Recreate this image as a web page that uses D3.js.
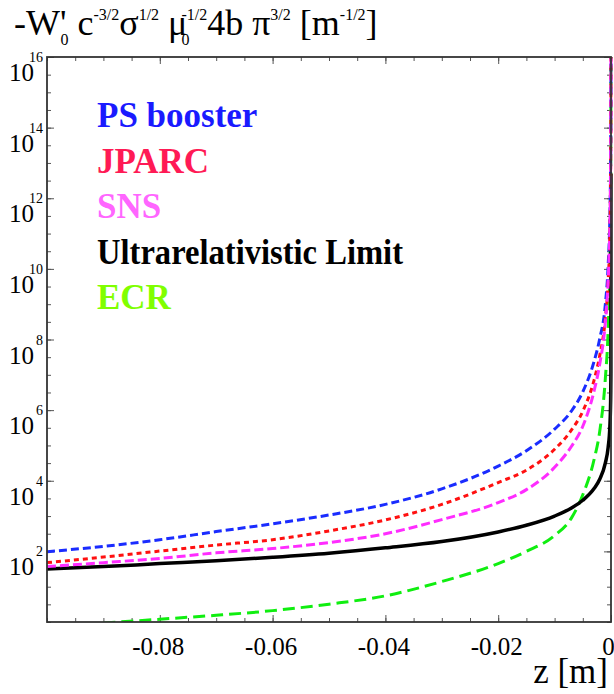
<!DOCTYPE html>
<html>
<head>
<meta charset="utf-8">
<script src="https://cdn.jsdelivr.net/npm/d3@7"></script>
<style>
  body { margin: 0; background: #fff; }
  text { font-family: "Liberation Serif", "Times New Roman", serif; }
</style>
</head>
<body>
<svg id="chart" width="614" height="694"></svg>
<script>
var zGrid = [-0.1, -0.09, -0.08, -0.07, -0.06, -0.05, -0.04, -0.03, -0.02, -0.015, -0.01,
  -0.007, -0.005, -0.003, -0.002, -0.001, -0.0005, -0.0002, -0.0001, -0.00005, -0.00002, -0.00001];

var psBooster = [98, 138, 214, 363, 603, 1070, 2140, 5890, 2.6e4, 7.1e4, 2.9e5,
  9.5e5, 3.3e6, 2.4e7, 1.05e8, 1e9, 1.3e10, 3e11, 3e12, 4e13, 8e14, 1e16];
var jparc = [48, 69, 102, 151, 214, 380, 776, 2140, 8900, 2.0e4, 7.8e4,
  2.75e5, 9.3e5, 7.1e6, 3.5e7, 4e8, 4.5e9, 1.1e11, 1.3e12, 1.4e13, 3.5e14, 1e16];
var sns = [37, 48, 63, 91, 120, 178, 316, 794, 2400, 5600, 2.4e4,
  9.5e4, 3.5e5, 3.5e6, 2e7, 3.2e8, 5e9, 1.6e11, 2e12, 2.5e13, 6.3e14, 1e16];
var ultraLimit = [31.6, 37, 45, 54, 68, 89, 126, 190, 355, 550, 1000,
  1700, 2800, 6000, 1.1e4, 3.2e4, 9e4, 3.5e5, 1e6, 2.8e6, 1.1e7, 5e12];
var ecr = [null, 0.93, 1.2, 1.55, 2.1, 3.2, 5.5, 14, 45, 100, 280,
  890, 4000, 4e4, 2.5e5, 8e6, 2e8, 1.3e10, 2.5e11, 6e12, 4e14, 1e16];

var seriesNames = ['PS booster', 'JPARC', 'SNS', 'Ultrarelativistic Limit', 'ECR'];
var seriesValues = [psBooster, jparc, sns, ultraLimit, ecr];
var lineColors = ['#1a2cff', '#ff1010', '#ff2cff', '#000000', '#10ee10'];
var labelColors = ['#1a1aff', '#ff1a55', '#ff66ff', '#000000', '#80ff00'];
var dashes = ['8,4', '5,4', '9,4', null, '12,6'];
var drawOrder = [4, 3, 0, 1, 2];

var xTickLabels = [-0.08, -0.06, -0.04, -0.02, 0];
var yTickExponents = [2, 4, 6, 8, 10, 12, 14, 16];

var svg = d3.select('#chart');
var plotL = 47, plotR = 611, plotT = 57, plotB = 622;

var x = d3.scaleLinear().domain([-0.1, 0]).range([plotL, plotR]);
var y = d3.scaleLog().domain([1, 1e16]).range([plotB, plotT]);

// clip for the curves
svg.append('clipPath').attr('id', 'plotclip')
  .append('rect').attr('x', plotL).attr('y', plotT).attr('width', plotR - plotL + 3).attr('height', plotB - plotT);

// ticks all round, pointing inward
var xMinor = d3.range(-0.1, 0.0001, 0.005);
var yMinor = d3.range(0, 16.01, 0.5).map(function(e) { return Math.pow(10, e); });
var yMajor = yTickExponents.map(function(e) { return Math.pow(10, e); });

function tickAxis(axis, transform) {
  var g = svg.append('g').attr('transform', transform).call(axis);
  g.select('.domain').remove();
  g.selectAll('line').attr('stroke', '#555').attr('stroke-width', 1);
  return g;
}
tickAxis(d3.axisBottom(x).tickValues(xMinor).tickSize(-4).tickFormat(''), 'translate(0,' + plotB + ')');
tickAxis(d3.axisTop(x).tickValues(xMinor).tickSize(-4).tickFormat(''), 'translate(0,' + plotT + ')');
tickAxis(d3.axisLeft(y).tickValues(yMinor).tickSize(-4).tickFormat(''), 'translate(' + plotL + ',0)');
tickAxis(d3.axisRight(y).tickValues(yMinor).tickSize(-4).tickFormat(''), 'translate(' + plotR + ',0)');
tickAxis(d3.axisLeft(y).tickValues(yMajor).tickSize(-7).tickFormat(''), 'translate(' + plotL + ',0)');
tickAxis(d3.axisRight(y).tickValues(yMajor).tickSize(-7).tickFormat(''), 'translate(' + plotR + ',0)');

var xAxis = tickAxis(d3.axisBottom(x).tickValues(xTickLabels).tickSize(-7).tickPadding(15)
  .tickFormat(function(d) { return d === 0 ? '0' : d.toFixed(2); }), 'translate(0,' + plotB + ')');
xAxis.selectAll('text').attr('font-size', 25).attr('fill', '#000')
  .style('font-family', '"Liberation Serif", "Times New Roman", serif')
  .attr('dx', function(d) { return d === 0 ? -3 : -2; });
tickAxis(d3.axisTop(x).tickValues(xTickLabels).tickSize(-7).tickFormat(''), 'translate(0,' + plotT + ')');

// y labels: 10 with exponent
var yLab = svg.append('g').selectAll('g').data(yTickExponents).enter().append('g');
yLab.append('text')
  .attr('x', 34).attr('y', function(d) { return y(Math.pow(10, d)) + 24; })
  .attr('text-anchor', 'end').attr('font-size', 25).text('10');
yLab.append('text')
  .attr('x', 43).attr('y', function(d) { return y(Math.pow(10, d)) + 5; })
  .attr('text-anchor', 'end').attr('font-size', 14).text(function(d) { return d; });

// curves
var line = d3.line()
  .defined(function(d) { return d.v != null; })
  .x(function(d) { return x(d.z); })
  .y(function(d) { return y(d.v); })
  .curve(d3.curveMonotoneX);

svg.append('g').attr('clip-path', 'url(#plotclip)')
  .selectAll('path').data(drawOrder).enter().append('path')
  .attr('d', function(k) {
    return line(zGrid.map(function(z, i) { return {z: z, v: seriesValues[k][i]}; }));
  })
  .attr('fill', 'none')
  .attr('stroke', function(k) { return lineColors[k]; })
  .attr('stroke-width', function(k) { return k === 3 ? 3.5 : 3; })
  .attr('stroke-dasharray', function(k) { return dashes[k]; });

// frame
svg.append('rect').attr('x', plotL).attr('y', plotT).attr('width', plotR - plotL).attr('height', plotB - plotT)
  .attr('fill', 'none').attr('stroke', '#333').attr('stroke-width', 1.8);

// legend text
svg.append('g').selectAll('text').data(seriesNames).enter().append('text')
  .attr('x', 97).attr('y', function(d, i) { return 127 + i * 45.5; })
  .attr('font-size', 35).attr('font-weight', 'bold')
  .attr('fill', function(d, i) { return labelColors[i]; })
  .each(function(d) {
    if (d === 'Ultrarelativistic Limit') d3.select(this).attr('textLength', 306).attr('lengthAdjust', 'spacingAndGlyphs');
  })
  .text(function(d) { return d; });

// axis title on x
svg.append('text').attr('x', 608).attr('y', 683).attr('text-anchor', 'end')
  .attr('font-size', 35).text('z [m]');

// y title with sub/superscripts
var titleParts = [
  ['-W\'', 0], ['0', 1], [' c', 0], ['-3/2', 2], ['σ', 0], ['1/2', 2], [' μ', 0],
  ['0', 1], ['-1/2', 3], ['4b π', 0], ['3/2', 2], [' [m', 0], ['-1/2', 2], [']', 0]
];
var title = svg.append('text').attr('x', 14).attr('y', 35).attr('font-size', 36);
var shift = 0;
titleParts.forEach(function(p) {
  var target = p[1] === 1 ? 10 : (p[1] >= 2 ? -15 : 0);
  var ts = title.append('tspan').attr('dy', target - shift).text(p[0]);
  if (p[1] === 1) ts.attr('font-size', 16).attr('dx', -6);
  if (p[1] === 2) ts.attr('font-size', 16);
  if (p[1] === 3) ts.attr('font-size', 16).attr('dx', -8);
  shift = target;
});
</script>
</body>
</html>
